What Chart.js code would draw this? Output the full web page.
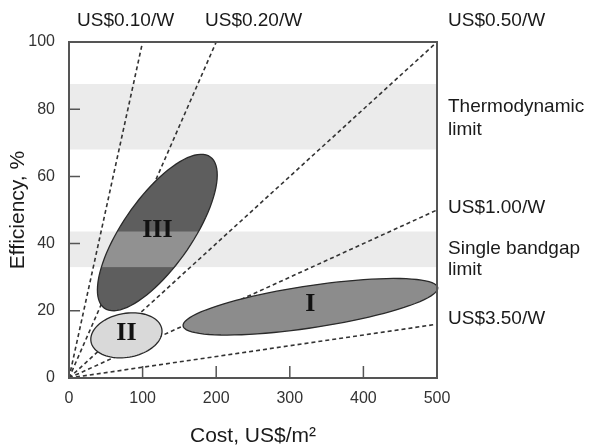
<!doctype html>
<html lang="en">
  <head>
    <meta charset="utf-8">
    <title>Efficiency vs cost</title>
    <script src="https://cdn.jsdelivr.net/npm/chart.js@4.4.1/dist/chart.umd.min.js"></script>
    <style>
      html, body {
        margin: 0;
        padding: 0;
        background: #ffffff;
      }
      #wrap {
        width: 595px;
        height: 447px;
      }
    </style>
  </head>
  <body>
    <div id="wrap">
      <canvas id="myChart" width="595" height="447"></canvas>
    </div>
    <script>
      // cost-per-watt guide lines, all from the origin
      const priceLabels = ['US$0.10/W', 'US$0.20/W', 'US$0.50/W', 'US$1.00/W', 'US$3.50/W'];
      const lineEndCost = [100, 200, 500, 500, 500];
      const lineEndEff = [100, 100, 100, 50, 16];

      // technology generations (ellipses): centre, end of long axis, end of short axis
      const regionNames = ['I', 'II', 'III'];
      const regionCenter = [[328, 21.2], [78, 12.7], [120, 43.3]];
      const regionMajorEnd = [[501, 26.9], [126, 14.7], [192, 65.8]];
      const regionMinorEnd = [[332, 15.0], [84, 6.3], [158, 37.3]];

      // efficiency limits (grey bands)
      const bandNames = [['Thermodynamic', 'limit'], ['Single bandgap', 'limit']];
      const bandLow = [68, 33];
      const bandHigh = [87.5, 43.6];

      const xTicks = [0, 100, 200, 300, 400, 500];
      const yTicks = [0, 20, 40, 60, 80, 100];

      const sansFont = "'Liberation Sans', Arial, sans-serif";
      const regionFill = ['#8c8c8c', '#d9d9d9', '#5e5e5e'];

      const datasets = priceLabels.map(function(label, i) {
        return {
          label: label,
          data: [{x: 0, y: 0}, {x: lineEndCost[i], y: lineEndEff[i]}],
          borderColor: '#333333',
          borderWidth: 1.6,
          borderDash: [4, 3],
          pointRadius: 0,
          fill: false
        };
      });

      function toPx(chart, p) {
        return {x: chart.scales.x.getPixelForValue(p[0]), y: chart.scales.y.getPixelForValue(p[1])};
      }

      function ellipsePath(ctx, c, u, v) {
        ctx.beginPath();
        const n = 90;
        for (let k = 0; k <= n; k++) {
          const t = k / n * Math.PI * 2;
          const px = c.x + u.x * Math.cos(t) + v.x * Math.sin(t);
          const py = c.y + u.y * Math.cos(t) + v.y * Math.sin(t);
          if (k === 0) ctx.moveTo(px, py); else ctx.lineTo(px, py);
        }
        ctx.closePath();
      }

      const bandPlugin = {
        id: 'bands',
        beforeDatasetsDraw(chart) {
          const {ctx, chartArea, scales} = chart;
          ctx.save();
          ctx.fillStyle = '#ebebeb';
          for (let i = 0; i < bandLow.length; i++) {
            const y1 = scales.y.getPixelForValue(bandHigh[i]);
            const y2 = scales.y.getPixelForValue(bandLow[i]);
            ctx.fillRect(chartArea.left, y1, chartArea.right - chartArea.left, y2 - y1);
          }
          ctx.restore();
        }
      };

      const regionPlugin = {
        id: 'regions',
        afterDatasetsDraw(chart) {
          const {ctx, chartArea, scales} = chart;
          ctx.save();
          for (let i = 0; i < regionNames.length; i++) {
            const c = toPx(chart, regionCenter[i]);
            const a = toPx(chart, regionMajorEnd[i]);
            const b = toPx(chart, regionMinorEnd[i]);
            const u = {x: a.x - c.x, y: a.y - c.y};
            const v = {x: b.x - c.x, y: b.y - c.y};
            ellipsePath(ctx, c, u, v);
            ctx.fillStyle = regionFill[i];
            ctx.fill();
            // bands show lighter through the ellipse
            ctx.save();
            ctx.clip();
            ctx.fillStyle = 'rgba(255,255,255,0.32)';
            for (let j = 0; j < bandLow.length; j++) {
              const y1 = scales.y.getPixelForValue(bandHigh[j]);
              const y2 = scales.y.getPixelForValue(bandLow[j]);
              ctx.fillRect(chartArea.left, y1, chartArea.right - chartArea.left, y2 - y1);
            }
            ctx.restore();
            ellipsePath(ctx, c, u, v);
            ctx.strokeStyle = '#2a2a2a';
            ctx.lineWidth = 1.3;
            ctx.stroke();

            ctx.fillStyle = '#111111';
            ctx.font = "bold 26px 'Liberation Serif', 'Times New Roman', serif";
            ctx.textAlign = 'center';
            ctx.textBaseline = 'middle';
            ctx.fillText(regionNames[i], c.x, c.y - 2);
          }
          ctx.restore();
        },
        afterDraw(chart) {
          const {ctx, chartArea, scales} = chart;
          ctx.save();
          // frame
          ctx.strokeStyle = '#555555';
          ctx.lineWidth = 2;
          ctx.strokeRect(chartArea.left, chartArea.top, chartArea.right - chartArea.left, chartArea.bottom - chartArea.top);
          // inward ticks
          ctx.lineWidth = 1.5;
          ctx.beginPath();
          yTicks.forEach(function(t) {
            const py = scales.y.getPixelForValue(t);
            ctx.moveTo(chartArea.left, py);
            ctx.lineTo(chartArea.left + 11, py);
          });
          xTicks.forEach(function(t) {
            const px = scales.x.getPixelForValue(t);
            ctx.moveTo(px, chartArea.bottom);
            ctx.lineTo(px, chartArea.bottom - 12);
          });
          ctx.stroke();

          // annotation text
          ctx.fillStyle = '#1a1a1a';
          ctx.font = '19px ' + sansFont;
          ctx.textBaseline = 'middle';
          ctx.textAlign = 'left';
          const rightX = chartArea.right + 11;
          ctx.fillText(priceLabels[0], 77, 21);
          ctx.fillText(priceLabels[1], 205, 21);
          ctx.fillText(priceLabels[2], rightX, 21);
          ctx.fillText(priceLabels[3], rightX, scales.y.getPixelForValue(lineEndEff[3]) - 2);
          ctx.fillText(priceLabels[4], rightX, scales.y.getPixelForValue(lineEndEff[4]) - 5);
          ctx.fillText(bandNames[0][0], rightX, 107);
          ctx.fillText(bandNames[0][1], rightX, 130);
          ctx.fillText(bandNames[1][0], rightX, 249);
          ctx.fillText(bandNames[1][1], rightX, 270);
          ctx.restore();
        }
      };

      const ctx = document.getElementById('myChart').getContext('2d');
      const myChart = new Chart(ctx, {
        type: 'line',
        data: {datasets: datasets},
        options: {
          responsive: false,
          animation: false,
          devicePixelRatio: 1,
          layout: {
            padding: {left: 0, top: 42, right: 158, bottom: 0}
          },
          plugins: {
            legend: {display: false},
            tooltip: {enabled: false}
          },
          scales: {
            x: {
              type: 'linear',
              min: 0,
              max: 500,
              afterFit: function(scale) { scale.height = 69; },
              afterBuildTicks: function(scale) {
                scale.ticks = xTicks.map(function(v) { return {value: v}; });
              },
              grid: {display: false, drawTicks: false},
              border: {display: false},
              ticks: {
                color: '#333333',
                padding: 11,
                font: {family: sansFont, size: 16}
              },
              title: {
                display: true,
                text: 'Cost, US$/m²',
                color: '#1a1a1a',
                padding: {top: 0, bottom: 0},
                font: {family: sansFont, size: 21, lineHeight: 1}
              }
            },
            y: {
              type: 'linear',
              min: 0,
              max: 100,
              afterFit: function(scale) { scale.width = 69; },
              afterBuildTicks: function(scale) {
                scale.ticks = yTicks.map(function(v) { return {value: v}; });
              },
              grid: {display: false, drawTicks: false},
              border: {display: false},
              ticks: {
                color: '#333333',
                padding: 14,
                font: {family: sansFont, size: 16}
              },
              title: {
                display: true,
                text: 'Efficiency, %',
                color: '#1a1a1a',
                padding: {top: 7.5, bottom: 0},
                font: {family: sansFont, size: 21, lineHeight: 1}
              }
            }
          }
        },
        plugins: [bandPlugin, regionPlugin]
      });
    </script>
  </body>
</html>
